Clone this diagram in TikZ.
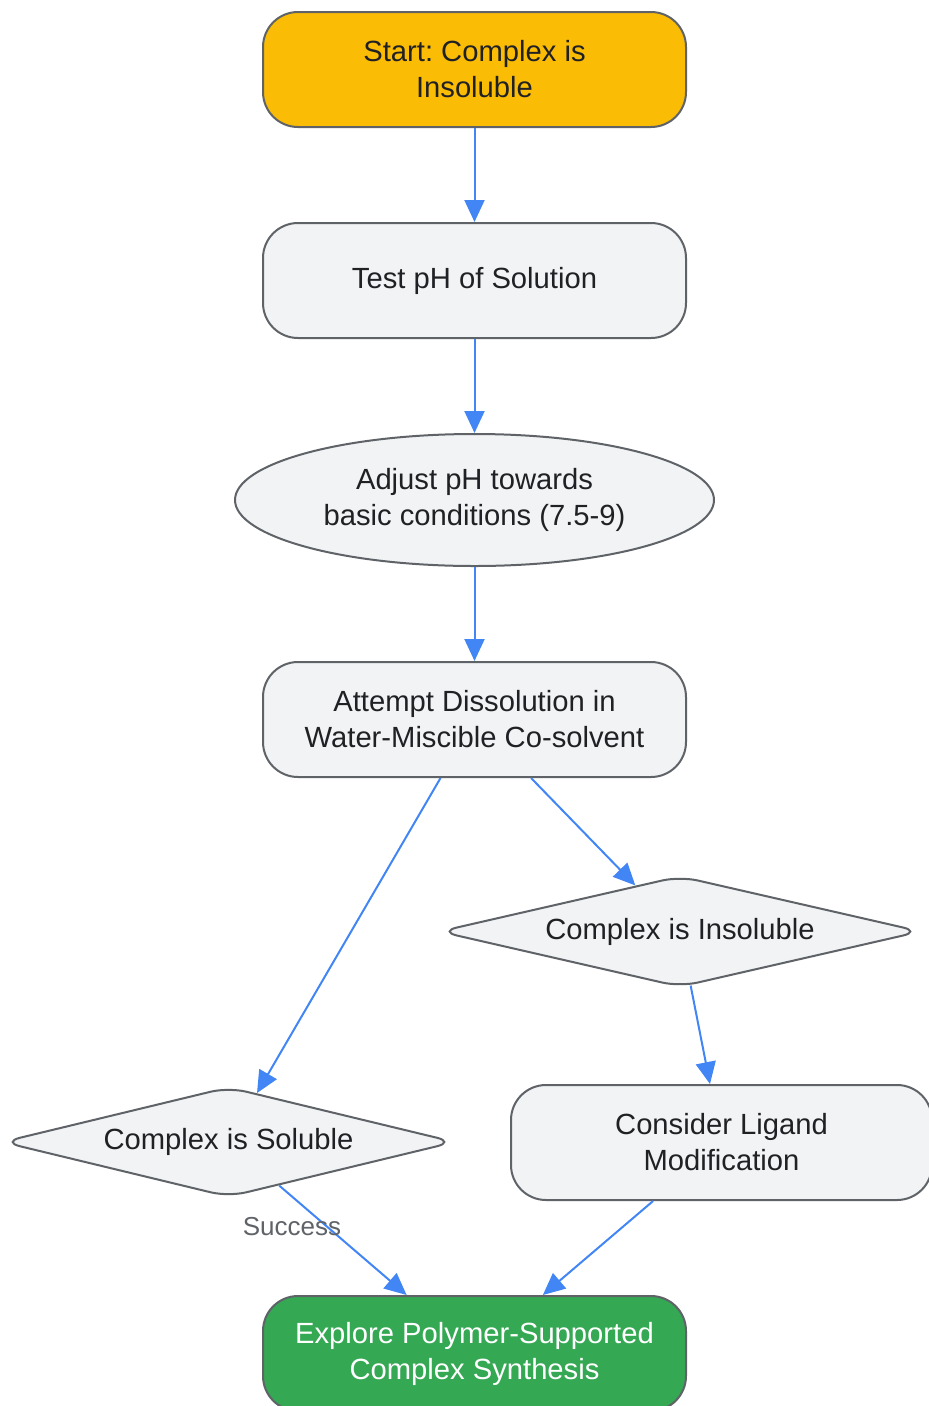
\documentclass[tikz,border=0pt]{standalone}
\usepackage{fontspec}
\setmainfont{Liberation Sans}
\frenchspacing
\usetikzlibrary{positioning,shapes,arrows.meta}

\definecolor{flowblue}{HTML}{4285F4}
\definecolor{boxline}{HTML}{5F6368}
\definecolor{boxfill}{HTML}{F1F3F4}
\definecolor{startfill}{HTML}{FBBC05}
\definecolor{endfill}{HTML}{34A853}
\definecolor{boxtext}{HTML}{202124}

\tikzset{
  stepbox/.style={draw=boxline, line width=2pt, fill=boxfill, rounded corners=35pt,
    minimum width=423pt, minimum height=115pt, inner sep=0pt, align=center,
    text=boxtext, font=\fontsize{29.2}{36}\selectfont},
  ovalbox/.style={ellipse, draw=boxline, line width=2pt, fill=boxfill,
    minimum width=479pt, minimum height=132pt, inner sep=0pt, align=center,
    text=boxtext, font=\fontsize{29.2}{36}\selectfont},
  askbox/.style={diamond, aspect=4.3, draw=boxline, line width=2pt, fill=boxfill,
    rounded corners=18pt, inner sep=0pt, align=center,
    text=boxtext, font=\fontsize{29.2}{36}\selectfont},
  flow/.style={draw=flowblue, line width=2pt, -{Triangle[length=22pt,width=20pt]}},
  edgelabel/.style={text=boxline, font=\fontsize{26}{30}\selectfont}
}

\begin{document}
\begin{tikzpicture}[x=1pt,y=-1pt]
\useasboundingbox (0,0) rectangle (929,1406);

% boxes
\node[stepbox, fill=startfill] (start) at (474.5,69.5) {Start: Complex is\\Insoluble};
\node[stepbox] (testph) at (474.5,280.5) {Test pH of Solution};
\node[ovalbox] (adjust) at (474.5,500) {Adjust pH towards\\basic conditions (7.5-9)};
\node[stepbox] (attempt) at (474.5,719.5) {Attempt Dissolution in\\Water-Miscible Co-solvent};
\node[askbox, minimum width=482pt, minimum height=111pt] (insol) at (680,931.5) {Complex is Insoluble};
\node[askbox, minimum width=453pt, minimum height=110pt] (sol) at (228.5,1142) {Complex is Soluble};
\node[stepbox, minimum width=421pt] (ligand) at (721.5,1142.5) {Consider Ligand\\Modification};
\node[stepbox, fill=endfill, text=white] (polymer) at (474.5,1353.5) {Explore Polymer-Supported\\Complex Synthesis};

% arrows
\draw[flow] (start) -- (testph);
\draw[flow] (testph) -- (adjust);
\draw[flow] (adjust) -- (attempt);
\draw[flow] (attempt) -- (sol);
\draw[flow] (attempt) -- (insol);
\draw[flow] (insol) -- (ligand);
\draw[flow] (sol) -- (polymer);
\draw[flow] (ligand) -- (polymer);

\node[edgelabel] (success) at (292,1227) {Success};
\end{tikzpicture}
\end{document}
